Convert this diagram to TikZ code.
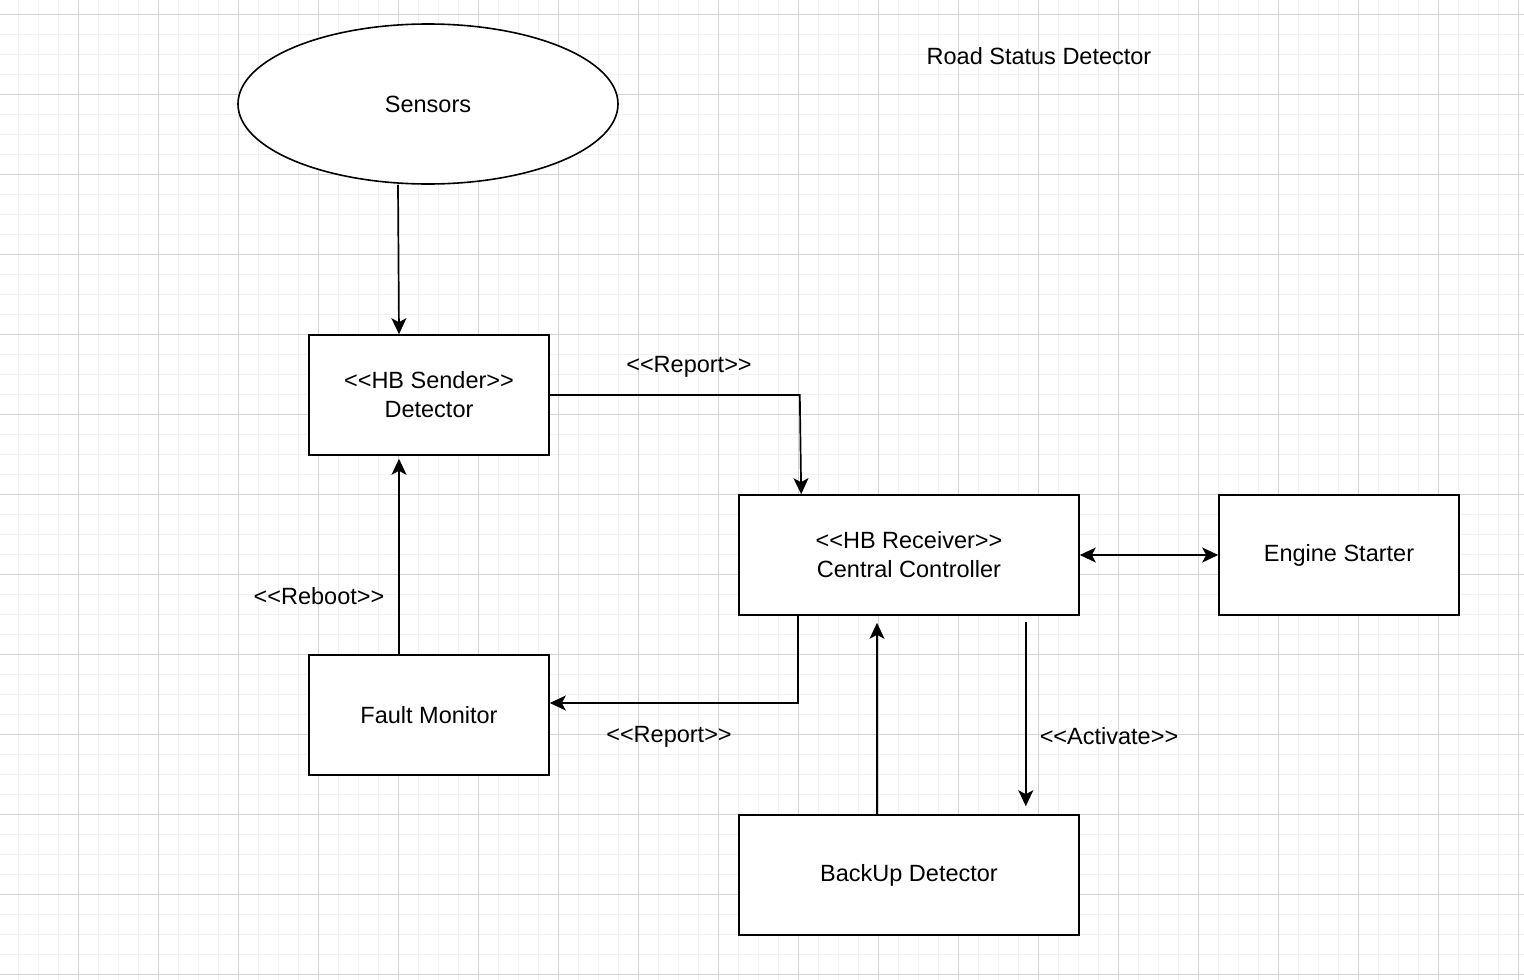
\documentclass[tikz,border=0pt]{standalone}
\usepackage{fontspec}
\setmainfont{Liberation Sans}
\usetikzlibrary{arrows.meta,calc,shapes.geometric}
\newcommand\stereo[1]{<{}<#1>{}>}
\tikzset{
	gridminor/.style={line width=1.6pt, color=black!5},
	gridmajor/.style={line width=1pt, color=black!17},
	block/.style={draw, line width=1.6pt, fill=white, minimum width=240pt, minimum height=120pt, inner sep=0pt, align=center, font=\fontsize{23.5}{29}\selectfont},
	label/.style={inner sep=0pt, font=\fontsize{23.5}{29}\selectfont},
	link/.style={line width=1.7pt, -{Stealth[length=16pt,width=15pt,inset=4pt]}},
	twolink/.style={line width=1.7pt, {Stealth[length=16pt,width=15pt,inset=4pt]}-{Stealth[length=16pt,width=15pt,inset=4pt]}}
}
\begin{document}
\begin{tikzpicture}[x=1pt, y=-1pt]
		%%%%% START %%%%%
		\useasboundingbox (0, 0) rectangle (1524, 980);
		\fill[white] (0, 0) rectangle (1524, 980);
		
		\foreach \i in {0,...,75} \draw[gridminor] ({18.3+20*\i}, 0) -- ++(0, 980);
		\foreach \i in {0,...,48} \draw[gridminor] (0, {14.3+20*\i}) -- ++(1524, 0);
		\foreach \i in {0,...,18} \draw[gridmajor] ({78.3+80*\i}, 0) -- ++(0, 980);
		\foreach \i in {0,...,12} \draw[gridmajor] (0, {14.3+80*\i}) -- ++(1524, 0);
		
		\node[label] (title) at (1039, 56) {Road Status Detector};
		
		\node[ellipse, draw, line width=1.6pt, fill=white, minimum width=380pt, minimum height=160pt, inner sep=0pt, font=\fontsize{23.5}{29}\selectfont] (sens) at (428, 104) {Sensors};
		
		\node[block] (det) at (429, 395) {\stereo{HB Sender}\\Detector};
		\node[block, minimum width=340pt] (cc) at (909, 555) {\stereo{HB Receiver}\\Central Controller};
		\node[block] (eng) at (1339, 555) {Engine Starter};
		\node[block] (fault) at (429, 715) {Fault Monitor};
		\node[block, minimum width=340pt] (bak) at (909, 875) {BackUp Detector};
		
		\draw[link] ([xshift=-30pt]sens.south) -- ([xshift=-30pt]det.north);
		\draw[link] (det.east) -- ++(250, 0) -- ([xshift=63pt]cc.north west);
		\draw[link] ([xshift=60pt]cc.south west) |- ([yshift=12pt]fault.east);
		\draw[link] ([xshift=-30pt]fault.north) -- ([xshift=-30pt, yshift=-3pt]det.south);
		\draw[twolink] (cc.east) -- (eng.west);
		\draw[link] ([xshift=-54pt, yshift=-6pt]cc.south east) -- ([xshift=-54pt, yshift=8pt]bak.north east);
		\draw[link] ([xshift=-32pt]bak.north) -- ([xshift=-32pt, yshift=-7pt]cc.south);
		
		\node[label] (rep1) at (689, 367) {\stereo{Report}};
		\node[label] (rep2) at (669, 737) {\stereo{Report}};
		\node[label] (reboot) at (319, 596) {\stereo{Reboot}};
		\node[label] (act) at (1109, 736) {\stereo{Activate}};
		
		%%%%% END %%%%%
	\end{tikzpicture}
\end{document}
